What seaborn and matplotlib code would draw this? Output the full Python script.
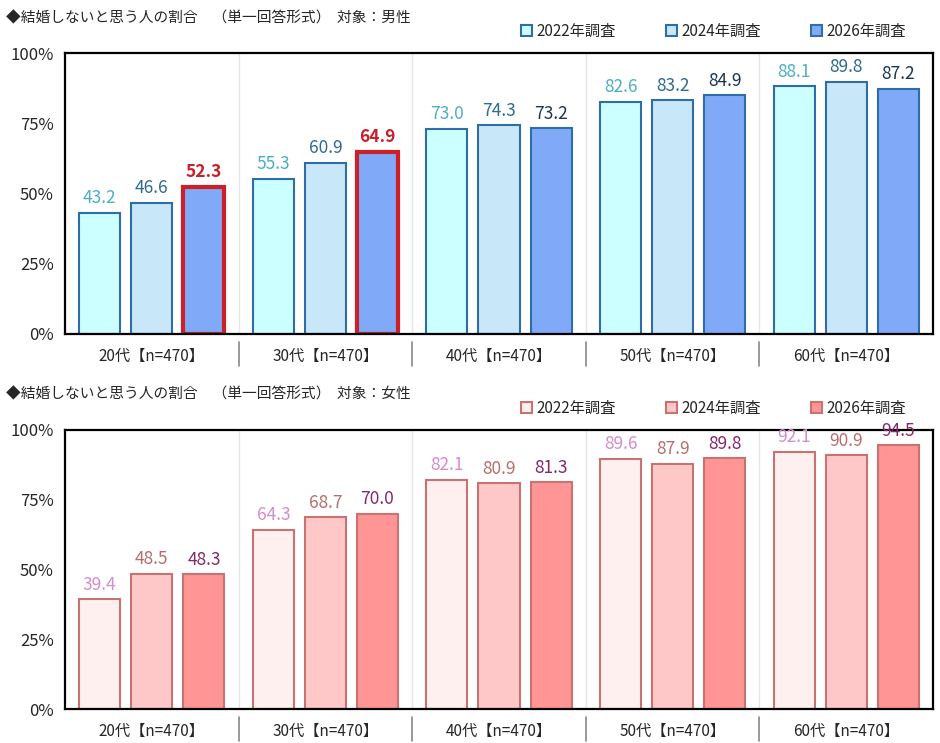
import pandas as pd
import matplotlib
matplotlib.use("Agg")
import matplotlib.pyplot as plt
import matplotlib.patches as mpatches
import seaborn as sns

# data
ages = ["20代【n=470】", "30代【n=470】", "40代【n=470】", "50代【n=470】", "60代【n=470】"]
years = ["2022年調査", "2024年調査", "2026年調査"]
male_2022 = [43.2, 55.3, 73.0, 82.6, 88.1]
male_2024 = [46.6, 60.9, 74.3, 83.2, 89.8]
male_2026 = [52.3, 64.9, 73.2, 84.9, 87.2]
female_2022 = [39.4, 64.3, 82.1, 89.6, 92.1]
female_2024 = [48.5, 68.7, 80.9, 87.9, 90.9]
female_2026 = [48.3, 70.0, 81.3, 89.8, 94.5]
male_title = "◆結婚しないと思う人の割合　（単一回答形式）  対象：男性"
female_title = "◆結婚しないと思う人の割合　（単一回答形式）  対象：女性"
highlight_male_2026 = [0, 1]  # 20代, 30代

sns.set_theme(style="white")
plt.rcParams['font.family'] = ['Noto Sans CJK JP', 'DejaVu Sans']


def make_df(v22, v24, v26):
    rows = []
    for yr, vals in zip(years, [v22, v24, v26]):
        for a, v in zip(ages, vals):
            rows.append({"age": a, "year": yr, "value": v})
    return pd.DataFrame(rows)


male_df = make_df(male_2022, male_2024, male_2026)
female_df = make_df(female_2022, female_2024, female_2026)

male_fill = ["#CCFFFF", "#C8E8FA", "#80AAF8"]
male_edge = "#2F6DA6"
male_text = ["#4BAFC2", "#2F6A8F", "#1E3550"]
female_fill = ["#FFF0F0", "#FFC8C8", "#FF9595"]
female_edge = "#C77373"
female_text = ["#D48CCB", "#B86E6E", "#862868"]

fig = plt.figure(figsize=(9.4, 7.43), dpi=100)
W, H = 940, 743
ax1 = fig.add_axes([65 / W, (H - 334) / H, 868 / W, 281 / H])
ax2 = fig.add_axes([65 / W, (H - 709) / H, 868 / W, 279 / H])


def draw(ax, df, fills, edge, tcolors):
    sns.barplot(data=df, x="age", y="value", hue="year", palette=fills,
                saturation=1, edgecolor=edge, linewidth=1.5, width=0.9, gap=0.21,
                ax=ax, legend=False)
    ax.set_ylim(0, 100)
    ax.set_xlim(-0.5, len(ages) - 0.5)
    ax.set_yticks([0, 25, 50, 75, 100])
    ax.set_yticklabels([f"{t}%" for t in [0, 25, 50, 75, 100]])
    ax.set_xlabel("")
    ax.set_ylabel("")
    ax.tick_params(axis="y", length=4, color="#999999", labelsize=12, pad=4)
    ax.tick_params(axis="x", length=0, labelsize=11, pad=10)
    for s in ax.spines.values():
        s.set_color("black")
        s.set_linewidth(1.6)
    # separators between age groups
    for b in range(1, len(ages)):
        ax.axvline(b - 0.5, color="#E6E6E6", lw=1, zorder=0)
        ax.plot([b - 0.5, b - 0.5], [-0.03, -0.115], color="#888888", lw=1.2,
                transform=ax.get_xaxis_transform(), clip_on=False)
    labels = []
    for cont, col in zip(ax.containers, tcolors):
        labels.append(ax.bar_label(cont, fmt="%.1f", padding=4, color=col, fontsize=12.5))
    handles = [mpatches.Patch(facecolor=f, edgecolor=edge, linewidth=1.5) for f in fills]
    ax.legend(handles, years, loc="lower right", bbox_to_anchor=(0.978, 1.02),
              ncol=3, frameon=False, fontsize=11, handlelength=0.7, handleheight=0.7,
              handletextpad=0.3, columnspacing=3.3, borderaxespad=0.1)
    return labels


labels1 = draw(ax1, male_df, male_fill, male_edge, male_text)
labels2 = draw(ax2, female_df, female_fill, female_edge, female_text)

fig.text(6 / W, 1 - 18 / H, male_title, fontsize=10.6, va="center")
fig.text(6 / W, 1 - 394 / H, female_title, fontsize=10.6, va="center")

# highlight 20s and 30s in 2026 for men
for i in highlight_male_2026:
    p = ax1.containers[2][i]
    p.set_edgecolor("#CC1F26")
    p.set_linewidth(3)
    labels1[2][i].set_color("#C8202A")
    labels1[2][i].set_fontweight("bold")

fig.savefig("out.png", dpi=100)
